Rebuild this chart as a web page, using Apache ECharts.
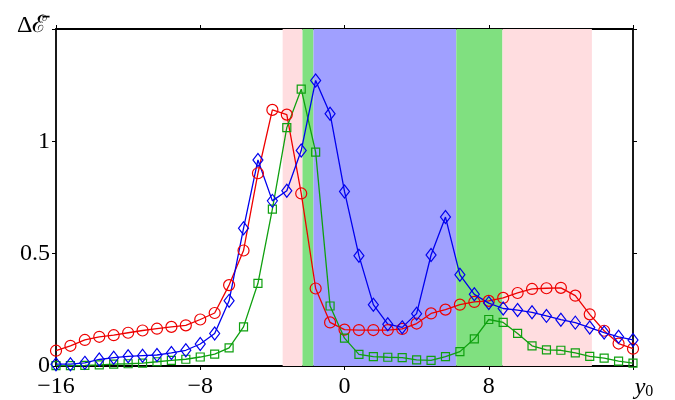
<!DOCTYPE html>
<html>
<head>
<meta charset="utf-8">
<script src="https://cdn.jsdelivr.net/npm/echarts@6/dist/echarts.min.js"></script>
<style>
  html, body { margin: 0; background: #fff; }
  #chart { width: 675px; height: 400px; }
</style>
</head>
<body>
<div id="chart"></div>
<script>
// y0 sample positions (every 0.8)
const yPos = [-16, -15.2, -14.4, -13.6, -12.8, -12, -11.2, -10.4, -9.6, -8.8, -8, -7.2, -6.4, -5.6, -4.8,
  -4, -3.2, -2.4, -1.6, -0.8, 0, 0.8, 1.6, 2.4, 3.2, 4, 4.8, 5.6, 6.4, 7.2, 8, 8.8, 9.6, 10.4, 11.2,
  12, 12.8, 13.6, 14.4, 15.2, 16]

const redCircles = [0.068, 0.09, 0.116, 0.13, 0.137, 0.148, 0.158, 0.166, 0.174, 0.181,
  0.207, 0.236, 0.36, 0.514, 0.858, 1.14, 1.119, 0.768, 0.345, 0.194,
  0.162, 0.16, 0.16, 0.16, 0.165, 0.189, 0.234, 0.251, 0.273, 0.285,
  0.29, 0.303, 0.325, 0.343, 0.346, 0.348, 0.313, 0.23, 0.157, 0.1, 0.077]

const blueDiamonds = [0.008, 0.008, 0.014, 0.029, 0.037, 0.043, 0.046, 0.049, 0.058, 0.07,
  0.098, 0.145, 0.29, 0.613, 0.917, 0.735, 0.78, 0.959, 1.271, 1.123,
  0.777, 0.491, 0.273, 0.186, 0.172, 0.233, 0.494, 0.663, 0.406, 0.319,
  0.28, 0.256, 0.249, 0.239, 0.223, 0.206, 0.193, 0.171, 0.149, 0.13, 0.116]

const greenSquares = [0.002, 0.002, 0.003, 0.005, 0.008, 0.01, 0.013, 0.019, 0.025, 0.03,
  0.04, 0.053, 0.081, 0.174, 0.368, 0.698, 1.061, 1.232, 0.952, 0.267,
  0.124, 0.052, 0.042, 0.039, 0.037, 0.027, 0.025, 0.042, 0.064, 0.121,
  0.207, 0.194, 0.145, 0.09, 0.072, 0.07, 0.058, 0.043, 0.035, 0.022, 0.013]

// shaded y0 ranges and their kind
const bandEdges = [[-3.43, -2.33], [-2.33, -1.72], [-1.72, 6.2], [6.2, 8.76], [8.76, 13.72]]
const bandKinds = ['pink', 'green', 'blue', 'green', 'pink']

const xTicks = [-16, -8, 0, 8, 16]
const yTicks = [0, 0.5, 1]

const bandColor = { pink: '#ffdde0', green: '#80e080', blue: '#a0a0ff' }
const FONT = 'Liberation Serif'

const chart = echarts.init(document.getElementById('chart'), null, { renderer: 'canvas' })

const pair = (vals) => yPos.map((x, i) => [x, vals[i]])

const axisLine = { show: true, onZero: false, lineStyle: { color: '#000', width: 1.8 } }
const axisTick = { show: true, inside: false, length: 4, lineStyle: { color: '#000', width: 1 } }

const lineSeries = (name, vals, color, symbol, size) => ({
  name,
  type: 'line',
  data: pair(vals),
  symbol,
  symbolSize: size,
  showAllSymbol: true,
  z: 3,
  lineStyle: { color, width: 1.3 },
  itemStyle: { color: 'rgba(0,0,0,0)', borderColor: color, borderWidth: 1.2 },
  emphasis: { disabled: true },
})

chart.setOption({
  animation: false,
  backgroundColor: '#fff',
  // y-axis title sits left of the top corner
  title: {
    text: '\u0394\u2130\u0304',
    left: 12, top: 9,
    textStyle: { color: '#000', fontFamily: FONT, fontSize: 24, fontWeight: 'normal' },
  },
  grid: { left: 56, right: 42, top: 29, bottom: 26 },
  xAxis: [
    {
      type: 'value', min: -16, max: 16, interval: 8,
      axisLine, axisTick, splitLine: { show: false },
      axisLabel: {
        margin: 9, color: '#000', fontFamily: FONT, fontSize: 24,
        formatter: (v) => {
          if (v === 16) return '{i|y}{s|0}'
          return xTicks.includes(v) ? String(v).replace('-', '\u2212') : ''
        },
        rich: {
          i: { fontFamily: FONT, fontStyle: 'italic', fontSize: 24, color: '#000', padding: [0, 0, 0, 22] },
          s: { fontFamily: FONT, fontSize: 16, color: '#000', verticalAlign: 'bottom', padding: [9, 0, 0, 0] },
        },
      },
    },
    {
      type: 'value', position: 'top', min: -16, max: 16, interval: 8,
      axisLine, axisTick, axisLabel: { show: false }, splitLine: { show: false },
    },
  ],
  yAxis: [
    {
      type: 'value', min: 0, max: 1.5, interval: 0.5,
      axisLine, axisTick, splitLine: { show: false },
      axisLabel: {
        margin: 6, color: '#000', fontFamily: FONT, fontSize: 24,
        formatter: (v) => (yTicks.includes(v) ? String(v) : ''),
      },
    },
    {
      type: 'value', position: 'right', min: 0, max: 1.5, interval: 0.5,
      axisLine, axisTick, axisLabel: { show: false }, splitLine: { show: false },
    },
  ],
  series: [
    {
      type: 'line',
      data: [],
      z: 1,
      silent: true,
      markArea: {
        silent: true,
        data: bandEdges.map(([a, b], i) => [
          { xAxis: a, itemStyle: { color: bandColor[bandKinds[i]], opacity: 1 } },
          { xAxis: b },
        ]),
      },
    },
    lineSeries('red', redCircles, '#ee0000', 'circle', 11),
    lineSeries('green', greenSquares, '#0fa00f', 'rect', 8),
    lineSeries('blue', blueDiamonds, '#0000ee', 'diamond', [10, 13]),
  ],
})
</script>
</body>
</html>
